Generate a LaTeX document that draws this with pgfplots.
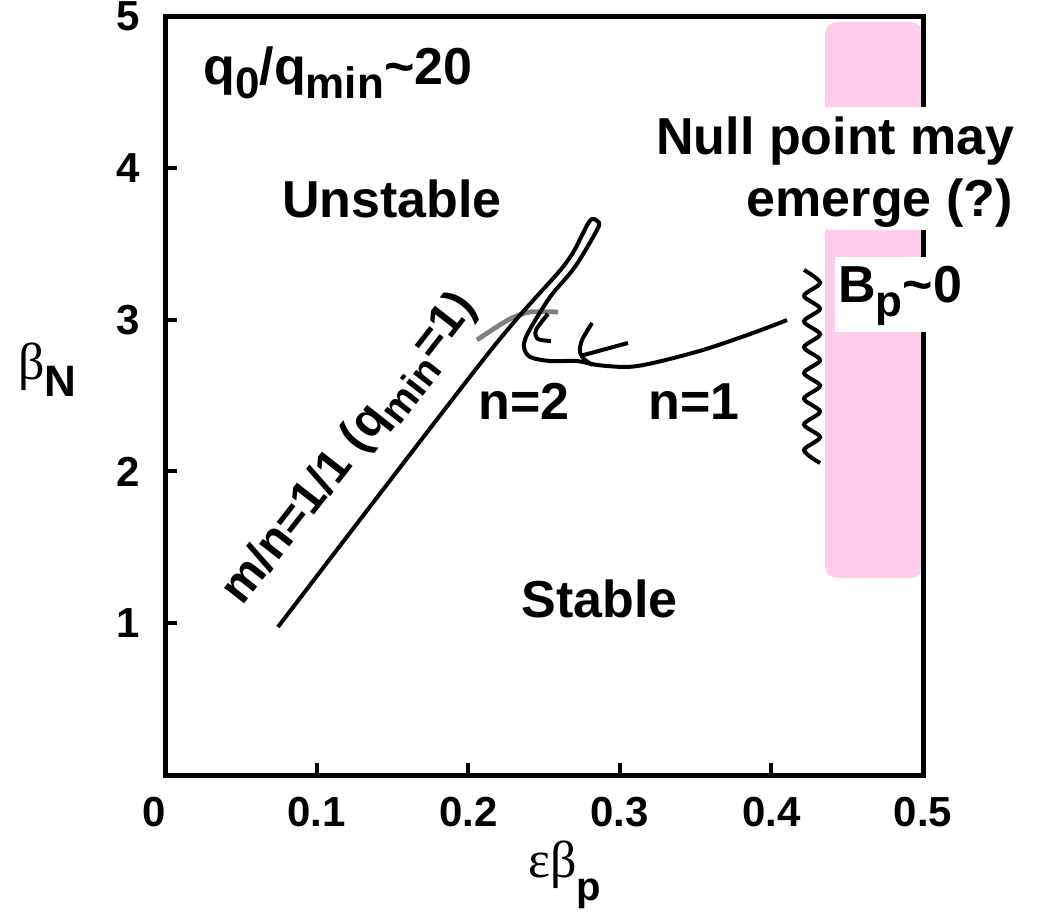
\documentclass[border=0pt]{standalone}
\usepackage{pgfplots}
\pgfplotsset{compat=1.18}
\usepackage{fontspec}
\setmainfont{Liberation Sans}
\newfontfamily\serifgreek{Liberation Serif}
\definecolor{pinkfill}{RGB}{255,204,236}
\definecolor{graycurve}{RGB}{128,128,128}
\newcommand{\fmain}{\fontsize{26}{31}\selectfont\bfseries}
\newcommand{\fsub}{\fontsize{22}{26}\selectfont\bfseries}
\newcommand{\sub}[1]{\raisebox{-7pt}{\fsub #1}}
\begin{document}
\begin{tikzpicture}
\begin{axis}[
  scale only axis, width=379pt, height=379.5pt,
  xmin=0, xmax=0.5, ymin=0, ymax=5,
  axis on top,
  axis line style={line width=2.5pt},
  xtick={0.1,0.2,0.3,0.4,0.5},
  xticklabels={0.1,0.2,0.3,0.4,0.5},
  extra x ticks={0},
  extra x tick labels={0},
  extra x tick style={major tick length=0pt, xticklabel style={xshift=-5.5pt}},
  ytick={1,2,3,4,5},
  yticklabels={1,2,3,4,5},
  tick align=inside,
  tick pos=left,
  major tick length=6pt,
  every tick/.style={line width=2pt, black},
  tick label style={font=\fontsize{21}{25}\selectfont\bfseries, inner sep=0pt},
  xticklabel style={anchor=north, yshift=-11pt},
  yticklabel style={anchor=east, xshift=-12.5pt},
]
% pink region
\addplot[draw=none, fill=pinkfill, rounded corners=6pt] coordinates {
 (0.4354,1.298) (0.5,1.298) (0.5,4.96) (0.4354,4.96)} -- cycle;
% gray curve
\addplot[smooth, line width=2.4pt, graycurve] coordinates {
 (0.2058,2.866) (0.2177,2.945) (0.2289,3.011) (0.2408,3.050) (0.2592,3.050)};
% main curve: m/n=1/1 line, hairpin, n=2 and n=1 branch
\addplot[smooth, line width=2pt, black] coordinates {
 (0.0745,0.975) (0.2124,2.767) (0.2625,3.347) (0.2751,3.557) (0.2784,3.623)
 (0.2817,3.663) (0.2850,3.650) (0.2856,3.603) (0.2704,3.347) (0.2540,3.149)
 (0.2394,2.912) (0.2368,2.820) (0.2408,2.754) (0.2540,2.727) (0.2718,2.727)
 (0.2850,2.701) (0.3047,2.688) (0.3219,2.714) (0.3549,2.800) (0.3879,2.912)
 (0.4103,2.997)};
% small marks
\addplot[smooth, line width=2pt, black] coordinates {
 (0.2526,3.037) (0.2447,2.931) (0.2460,2.872) (0.2546,2.859)};
\addplot[smooth, line width=2pt, black] coordinates {
 (0.2817,2.978) (0.2751,2.866) (0.2737,2.787) (0.2770,2.734) (0.2823,2.701)};
\addplot[line width=2pt, black] coordinates {
 (0.2737,2.760) (0.3054,2.846)};
% wavy line
\addplot[smooth, line width=2pt, black] coordinates {
 (0.4215,3.327) (0.4321,3.242) (0.4215,3.157) (0.4321,3.072) (0.4215,2.988)
 (0.4321,2.903) (0.4215,2.818) (0.4321,2.733) (0.4215,2.648) (0.4321,2.564)
 (0.4215,2.479) (0.4321,2.394) (0.4215,2.309) (0.4321,2.225) (0.4215,2.140)
 (0.4321,2.055)};
\end{axis}
% white label backgrounds
\fill[white] (240pt,272.5pt) rectangle (430pt,334pt);
\fill[white] (335pt,221.5pt) rectangle (405pt,259pt);
% labels
\node[anchor=base west, inner sep=0pt] at (19pt,345pt) {\fmain q\sub{0}/q\sub{min}\textasciitilde20};
\node[anchor=base, inner sep=0pt] at (113.5pt,278.5pt) {\fmain Unstable};
\node[anchor=base east, inner sep=0pt] at (425pt,310pt) {\fmain Null point may};
\node[anchor=base east, inner sep=0pt] at (424pt,279pt) {\fmain emerge (?)};
\node[anchor=base west, inner sep=0pt] at (336.5pt,236pt) {\fmain B\sub{p}\textasciitilde0};
\node[anchor=base west, inner sep=0pt] at (156.5pt,177.5pt) {\fmain n=2};
\node[anchor=base west, inner sep=0pt] at (241.5pt,177.5pt) {\fmain n=1};
\node[anchor=base, inner sep=0pt] at (217.25pt,78.5pt) {\fmain Stable};
\node[anchor=base, rotate=52, inner sep=0pt] at (97.5pt,159pt)
  {\fontsize{24}{28}\selectfont\bfseries m/n=1/1 (q\raisebox{-6pt}{\fontsize{20}{24}\selectfont\bfseries min}=1)};
\node[anchor=base west, inner sep=0pt] at (181.5pt,-51.5pt)
  {\serifgreek\fontsize{26}{30}\selectfont εβ\raisebox{-11pt}{\fontsize{20}{24}\selectfont\bfseries\rmfamily p}};
\node[anchor=base west, inner sep=0pt] at (-73.5pt,197.5pt)
  {\serifgreek\fontsize{26}{30}\selectfont β\raisebox{-8.5pt}{\fontsize{22}{26}\selectfont\bfseries\rmfamily N}};
\pgfresetboundingbox
\path (-82.5pt,-70pt) rectangle (436.5pt,387.5pt);
\end{tikzpicture}
\end{document}
